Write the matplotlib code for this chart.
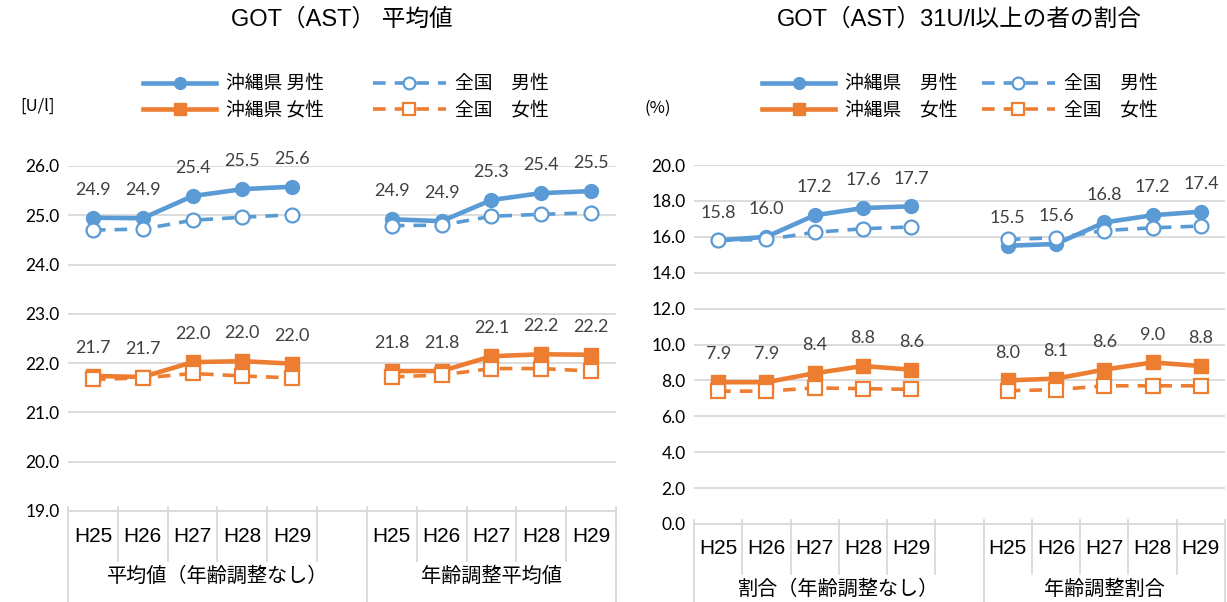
import matplotlib
matplotlib.use("Agg")
import matplotlib.pyplot as plt
import matplotlib.transforms as mtransforms
import numpy as np

plt.rcParams['font.family'] = ['Lato', 'Noto Sans CJK JP', 'DejaVu Sans']

years = ["H25", "H26", "H27", "H28", "H29"]

# GOT(AST) mean, [U/l]; row 0 = raw, row 1 = age adjusted
mean_groups = ["平均値（年齢調整なし）", "年齢調整平均値"]
mean_oki_male = [[24.95, 24.94, 25.39, 25.53, 25.58],
                 [24.92, 24.88, 25.31, 25.45, 25.49]]
mean_nat_male = [[24.70, 24.72, 24.90, 24.96, 25.01],
                 [24.79, 24.80, 24.98, 25.02, 25.05]]
mean_oki_female = [[21.74, 21.72, 22.02, 22.04, 21.99],
                   [21.84, 21.84, 22.14, 22.18, 22.17]]
mean_nat_female = [[21.67, 21.70, 21.79, 21.74, 21.70],
                   [21.72, 21.76, 21.89, 21.89, 21.84]]

# share of people with GOT(AST) >= 31 U/l, [%]
rate_groups = ["割合（年齢調整なし）", "年齢調整割合"]
rate_oki_male = [[15.8, 16.0, 17.2, 17.6, 17.7],
                 [15.5, 15.6, 16.8, 17.2, 17.4]]
rate_nat_male = [[15.80, 15.85, 16.25, 16.45, 16.55],
                 [15.85, 15.95, 16.35, 16.50, 16.60]]
rate_oki_female = [[7.9, 7.9, 8.4, 8.8, 8.6],
                   [8.0, 8.1, 8.6, 9.0, 8.8]]
rate_nat_female = [[7.40, 7.40, 7.58, 7.54, 7.50],
                   [7.43, 7.48, 7.70, 7.70, 7.70]]

BLUE = "#5B9BD5"
ORANGE = "#ED7D31"
GRID = "#D9D9D9"
SANS_JP = ['Liberation Sans', 'Noto Sans CJK JP']

W, H = 1227, 602
fig = plt.figure(figsize=(W / 100, H / 100), dpi=100)


def px_box(x0, x1, ytop, ybot):
    return [x0 / W, 1 - ybot / H, (x1 - x0) / W, (ybot - ytop) / H]


def draw_panel(ax, title, unit, groups, oki_m, nat_m, oki_f, nat_f,
               ylim, ystep, names, legend_xy, unit_xy, colspace):
    for g in range(2):
        x = np.arange(5) + g * 6
        ax.plot(x, oki_m[g], color=BLUE, lw=3.3, marker='o', ms=10,
                zorder=3)
        ax.plot(x, oki_f[g], color=ORANGE, lw=3.3, marker='s', ms=9.5,
                zorder=3)
        ax.plot(x, nat_m[g], color=BLUE, lw=2.6, ls=(0, (3.5, 2.5)),
                marker='o', ms=10, mfc='white', mew=1.6, zorder=4)
        ax.plot(x, nat_f[g], color=ORANGE, lw=2.6, ls=(0, (3.5, 2.5)),
                marker='s', ms=10, mfc='white', mew=1.6, zorder=4)
        for xi, v in zip(x, oki_m[g]):
            ax.annotate(f"{v:.1f}", (xi, v), xytext=(0, 20),
                        textcoords='offset points', ha='center', va='center',
                        fontsize=13, color='#404040')
        for xi, v in zip(x, oki_f[g]):
            ax.annotate(f"{v:.1f}", (xi, v), xytext=(0, 20),
                        textcoords='offset points', ha='center', va='center',
                        fontsize=13, color='#404040')

    ax.set_xlim(-0.5, 10.5)
    ax.set_ylim(*ylim)
    ax.set_yticks(np.arange(ylim[0], ylim[1] + ystep / 2, ystep))
    ax.yaxis.set_major_formatter(lambda v, p: f"{v:.1f}")
    ax.tick_params(axis='y', length=0, labelsize=12.5, pad=6)
    ax.set_xticks([])
    ax.grid(axis='y', color=GRID, lw=1.3)
    ax.set_axisbelow(True)
    for s in ['left', 'right', 'top']:
        ax.spines[s].set_visible(False)
    ax.spines['bottom'].set_color(GRID)
    ax.spines['bottom'].set_linewidth(1.3)

    # two-level category axis below the plot
    y0 = ax.get_position().y0
    tr = mtransforms.blended_transform_factory(ax.transData, fig.transFigure)
    for b in np.arange(-0.5, 11, 1.0):
        tall = b in (-0.5, 5.5, 10.5)
        ybot = 0 if tall else y0 - 50 / H
        ax.plot([b, b], [y0 + 4 / H, ybot], color=GRID, lw=1.3,
                transform=tr, clip_on=False)
    for g in range(2):
        for i, yr in enumerate(years):
            ax.text(i + g * 6, y0 - 25 / H, yr, transform=tr, ha='center',
                    va='center', fontsize=15, family='Liberation Sans')
    ax.text(2.5, y0 - 65 / H, groups[0], transform=tr, ha='center',
            va='center', fontsize=14.5, family=SANS_JP)
    ax.text(8.0, y0 - 65 / H, groups[1], transform=tr, ha='center',
            va='center', fontsize=14.5, family=SANS_JP)

    cx = (ax.get_position().x0 + ax.get_position().x1) / 2
    fig.text(cx, 1 - 20 / H, title, ha='center', va='center', fontsize=17,
             family=SANS_JP)
    fig.text(unit_xy[0] / W, 1 - unit_xy[1] / H, unit, ha='left',
             va='center', fontsize=12, family=['Noto Sans CJK JP'])

    h = ax.get_lines()
    handles = [h[0], h[1], h[2], h[3]]
    leg = ax.legend(handles, names, ncol=2, loc='center',
                    bbox_to_anchor=(legend_xy[0] / W, 1 - legend_xy[1] / H),
                    bbox_transform=fig.transFigure, frameon=False,
                    handlelength=3.9, columnspacing=colspace,
                    handletextpad=0.5, labelspacing=0.3, markerscale=0.85,
                    prop={'family': 'Noto Sans CJK JP', 'size': 13.5})
    return leg


ax1 = fig.add_axes(px_box(68, 616, 166, 511))
draw_panel(ax1, "GOT（AST） 平均値", "[U/l]", mean_groups,
           mean_oki_male, mean_nat_male, mean_oki_female, mean_nat_female,
           (19.0, 26.0), 1.0,
           ["沖縄県 男性", "沖縄県 女性", "全国　男性", "全国　女性"],
           (346, 97), (20, 106), 2.6)

ax2 = fig.add_axes(px_box(694, 1225, 165, 524))
draw_panel(ax2, "GOT（AST）31U/l以上の者の割合", "(%)", rate_groups,
           rate_oki_male, rate_nat_male, rate_oki_female, rate_nat_female,
           (0.0, 20.0), 2.0,
           ["沖縄県　男性", "沖縄県　女性", "全国　男性", "全国　女性"],
           (960, 97), (645, 108), 1.3)

fig.savefig("out.png", dpi=100)
